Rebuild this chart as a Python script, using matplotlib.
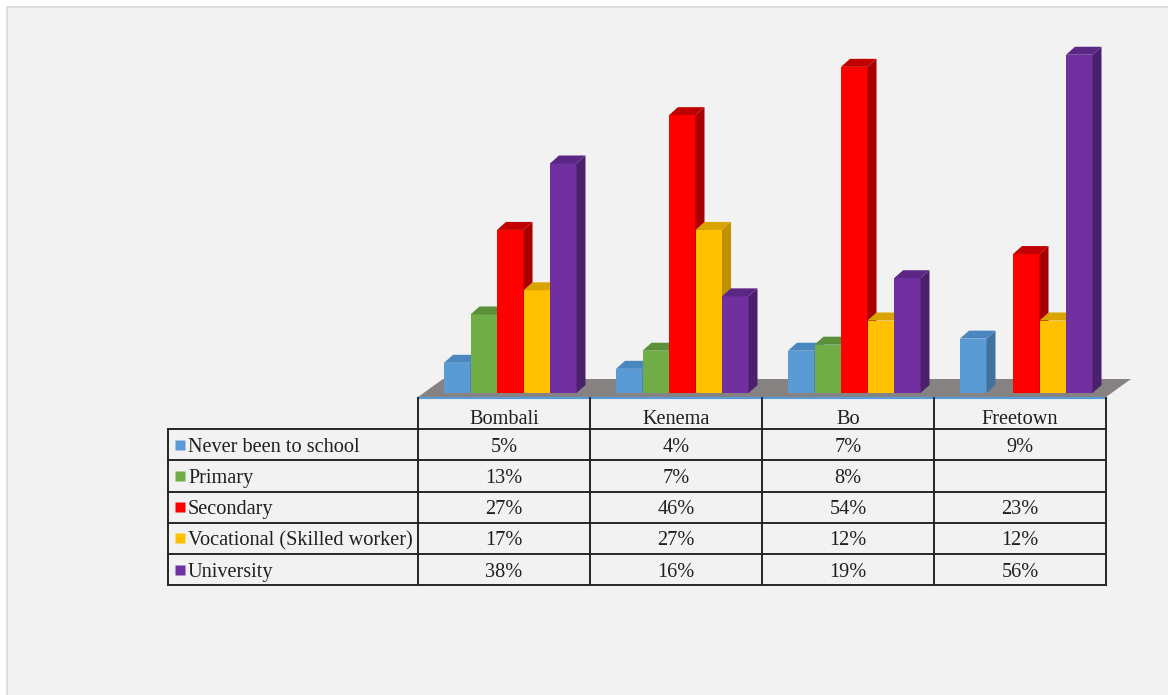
import numpy as np
import matplotlib
matplotlib.use('Agg')
from matplotlib import pyplot as plt
from matplotlib.patches import Polygon, Rectangle

# Datos (porcentajes)
regions = ['Bombali', 'Kenema', 'Bo', 'Freetown']
levels = ['Never been to school', 'Primary', 'Secondary',
          'Vocational (Skilled worker)', 'University']
never = [5, 4, 7, 9]
primary = [13, 7, 8, None]
secondary = [27, 46, 54, 23]
vocational = [17, 27, 12, 12]
university = [38, 16, 19, 56]
series = [never, primary, secondary, vocational, university]

front_cols = ['#5b9bd5', '#70ad47', '#ff0000', '#ffc000', '#7030a0']
side_cols = ['#41719c', '#507e32', '#a80000', '#bf9000', '#4a1f6b']
top_cols = ['#4a86c0', '#5b8f3a', '#c00000', '#d9a300', '#5a2785']

W, H = 1168, 695
fig = plt.figure(figsize=(W / 100, H / 100), dpi=100, facecolor='white')

# fondo gris
fig.patches.append(Rectangle((7 / W, -0.01), 1.1, 1 - 7 / H + 0.01,
                             transform=fig.transFigure, facecolor='#f2f2f2',
                             edgecolor='#d9d9d9', lw=1.2, zorder=-10))

# --- barras 3D ---
px_x = 172.0          # pixeles por categoría
px_y = 6.04           # pixeles por punto porcentual
y0 = 393
ymax = 62
ax = fig.add_axes([418 / W, 1 - y0 / H, 4 * px_x / W, ymax * px_y / H])
ax.set_xlim(0, 4)
ax.set_ylim(0, ymax)
ax.axis('off')

dx, dy = 9 / px_x, 8 / px_y
# piso
fdx, fy_back, fy_front = 25 / px_x, 14 / px_y, -4 / px_y
ax.add_patch(Polygon([(0, fy_front), (4, fy_front), (4 + fdx, fy_back), (fdx, fy_back)],
                     closed=True, facecolor='#868282', edgecolor='none',
                     clip_on=False, zorder=1))

bw = 26.5 / px_x
off = 26 / px_x
z = 2
for c in range(len(regions)):
    for i, s in enumerate(series):
        v = s[c]
        if v is None:
            continue
        x = c + off + i * bw
        ax.bar(x, v, width=bw, align='edge', color=front_cols[i],
               edgecolor='none', zorder=z, clip_on=False)
        ax.add_patch(Polygon([(x + bw, 0), (x + bw + dx, dy), (x + bw + dx, v + dy), (x + bw, v)],
                             closed=True, facecolor=side_cols[i], edgecolor='none',
                             zorder=z, clip_on=False))
        ax.add_patch(Polygon([(x, v), (x + bw, v), (x + bw + dx, v + dy), (x + dx, v + dy)],
                             closed=True, facecolor=top_cols[i], edgecolor='none',
                             zorder=z, clip_on=False))
        z += 1

# --- tabla de datos ---
lab_w = 250 / px_x
row_h = 31.2
n_rows = len(levels) + 1
tax = fig.add_axes([168 / W, 1 - (398 + n_rows * row_h) / H,
                    (250 + 4 * px_x) / W, n_rows * row_h / H])
tax.set_xlim(-lab_w, 4)
tax.set_ylim(n_rows, 0)
tax.axis('off')

lc = '#262626'
lw = 1.4
tax.plot([0, 4], [0, 0], color='#5b9bd5', lw=1.6, clip_on=False)
for r in range(1, n_rows + 1):
    tax.plot([-lab_w, 4], [r, r], color=lc, lw=lw, clip_on=False)
for c in range(0, 5):
    tax.plot([c, c], [0, n_rows], color=lc, lw=lw, clip_on=False)
tax.plot([-lab_w, -lab_w], [1, n_rows], color=lc, lw=lw, clip_on=False)

fnt = dict(family='Liberation Serif', size=14.6, color='#1f1f1f')
for c, name in enumerate(regions):
    tax.text(c + 0.5, 0.7, name, ha='center', va='center', **fnt)

for r, (name, s) in enumerate(zip(levels, series)):
    yy = r + 1.5
    tax.plot(-lab_w + 11.5 / px_x, yy, marker='s', ms=6.8,
             color=front_cols[r], mec='none', clip_on=False)
    tax.text(-lab_w + 20 / px_x, yy + 0.08, name, ha='left', va='center', **fnt)
    for c, v in enumerate(s):
        if v is not None:
            tax.text(c + 0.5, yy + 0.08, f'{v}%', ha='center', va='center', **fnt)

plt.savefig('out.png', dpi=100, facecolor='white')
